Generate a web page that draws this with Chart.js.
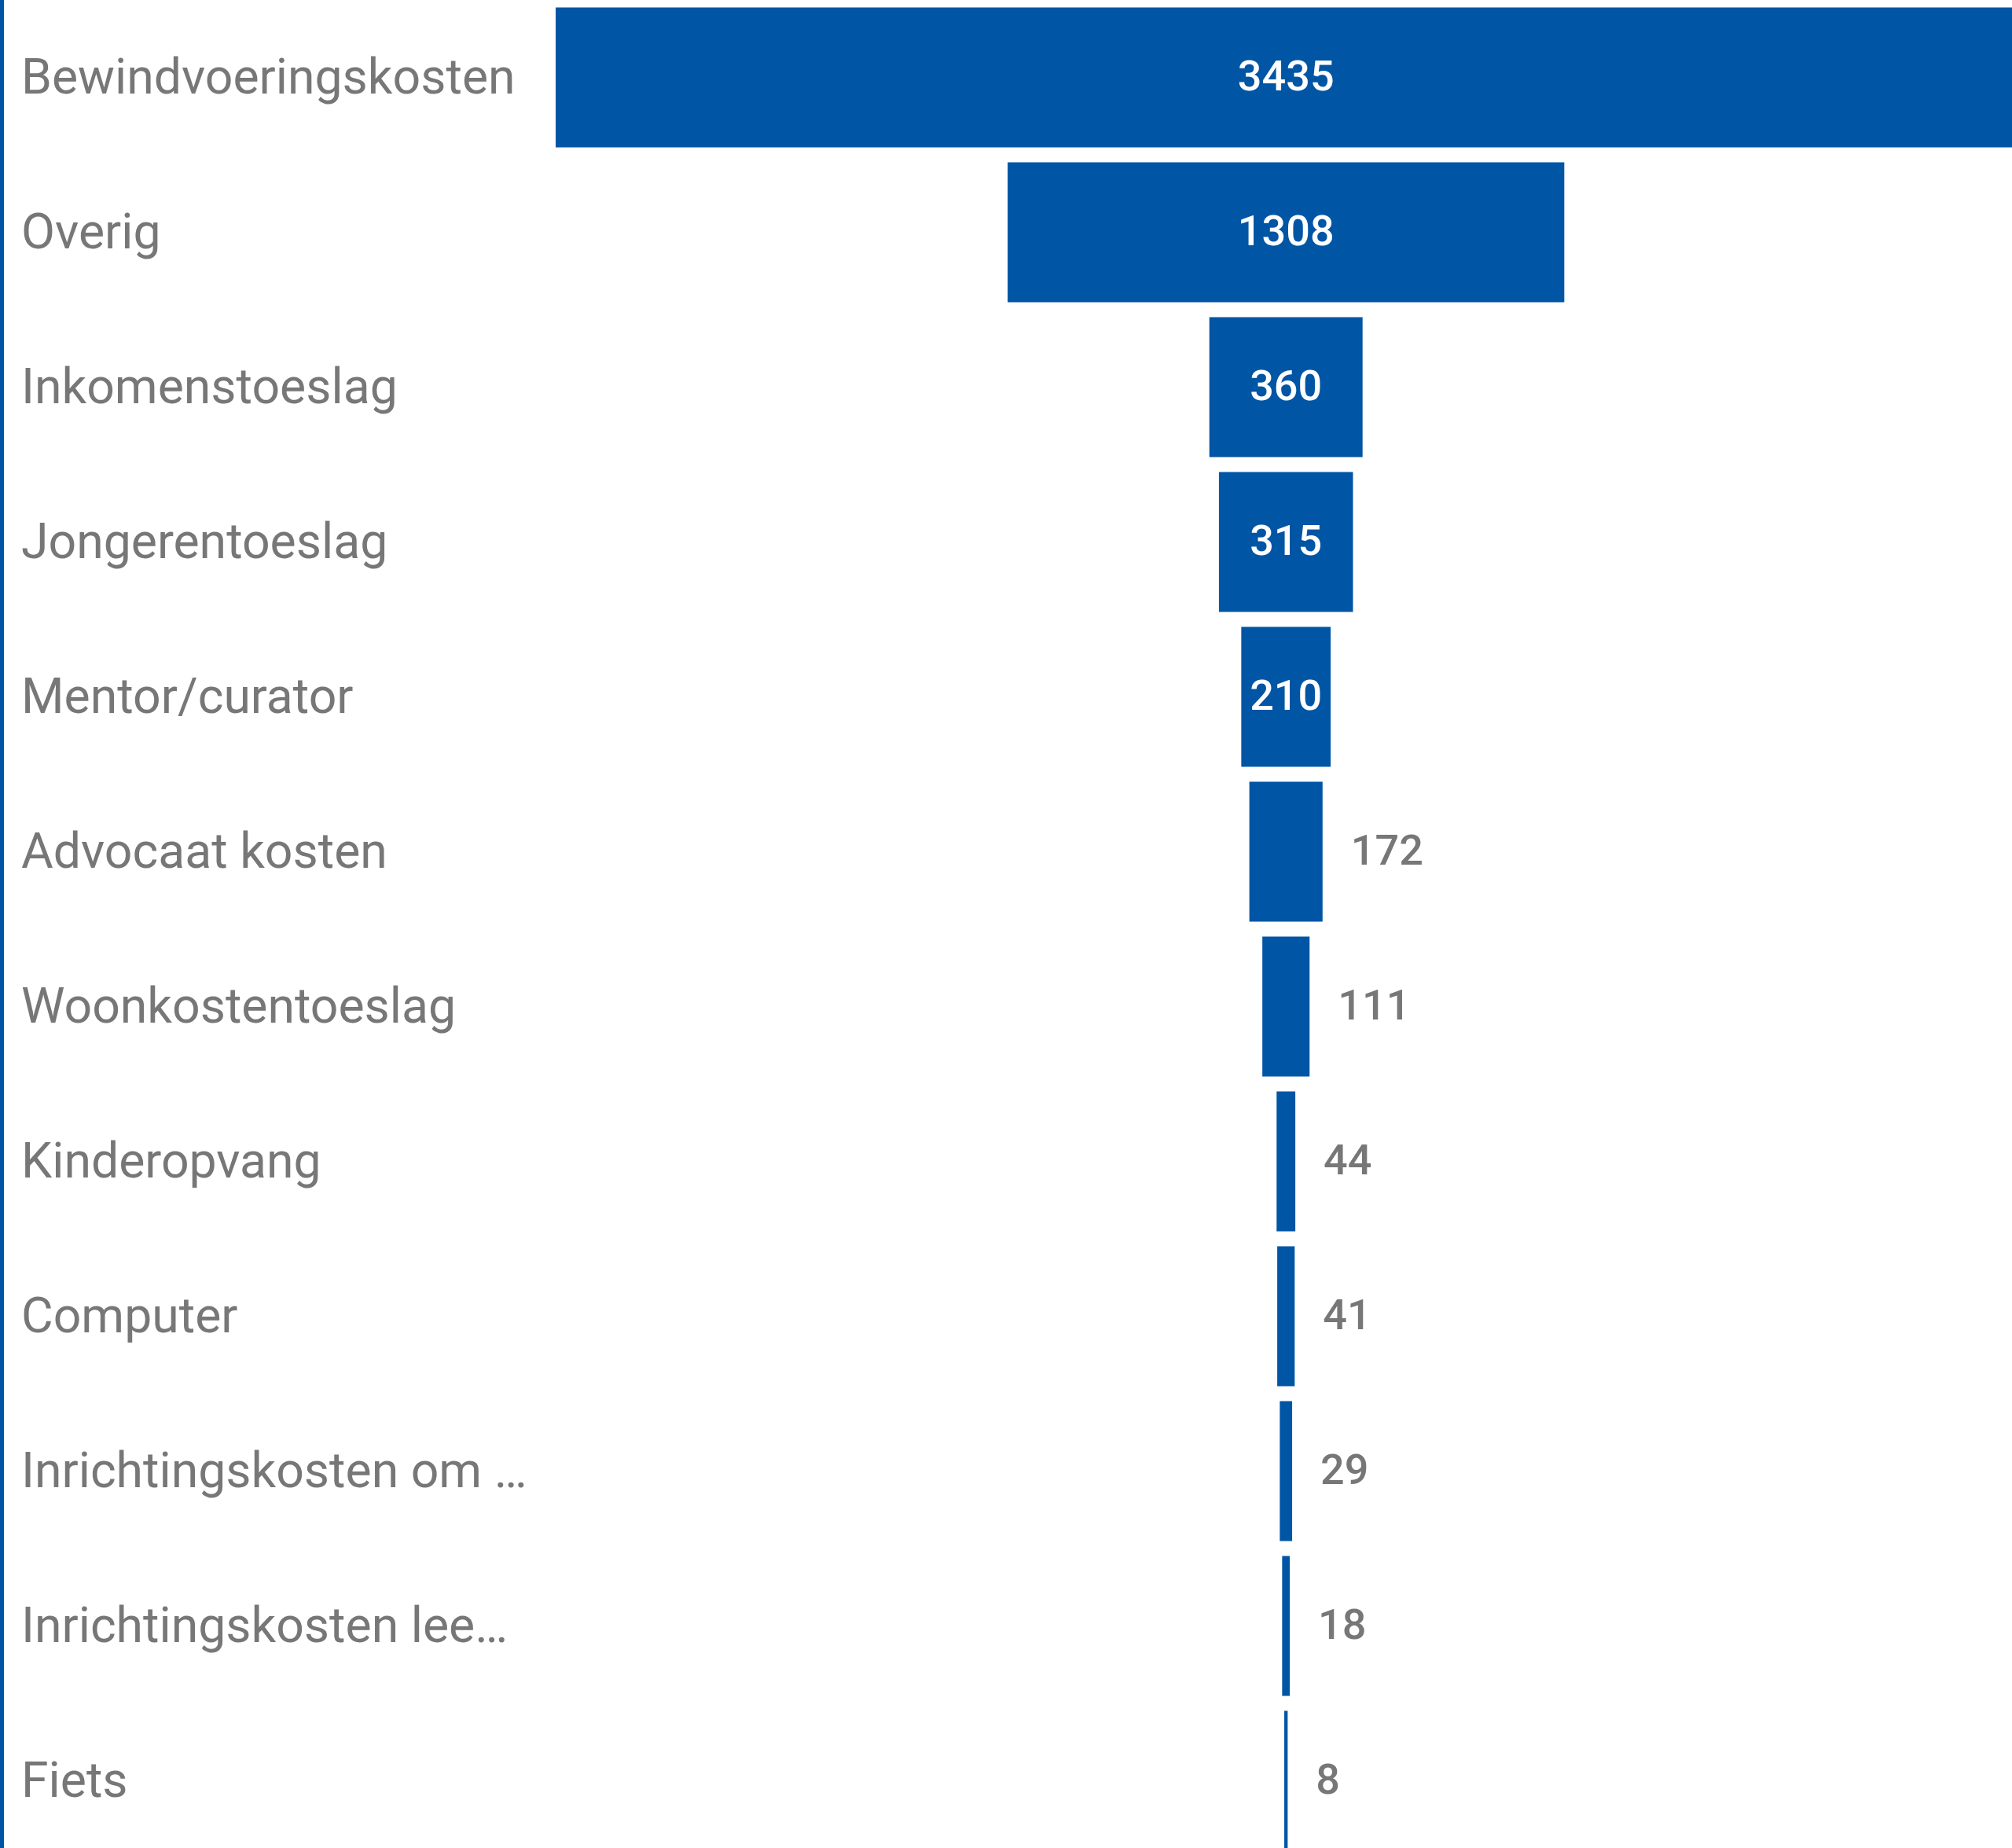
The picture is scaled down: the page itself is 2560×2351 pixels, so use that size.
<!DOCTYPE html>
<html>
<head>
<meta charset="utf-8">
<script src="https://cdn.jsdelivr.net/npm/chart.js@4.4.0/dist/chart.umd.min.js"></script>
<style>
  html, body { margin: 0; padding: 0; background: #fff; }
  #wrap { position: relative; width: 2560px; height: 2351px; overflow: hidden; }
  #edge { position: absolute; left: 0; top: 0; width: 5px; height: 2351px; background: #0055a5; }
  #chart { position: absolute; left: 0; top: 0; }
</style>
</head>
<body>
<div id="wrap">
  <canvas id="chart" width="2560" height="2364"></canvas>
  <div id="edge"></div>
</div>
<script>
const categories = [
    'Bewindvoeringskosten',
    'Overig',
    'Inkomenstoeslag',
    'Jongerentoeslag',
    'Mentor/curator',
    'Advocaat kosten',
    'Woonkostentoeslag',
    'Kinderopvang',
    'Computer',
    'Inrichtingskosten om …',
    'Inrichtingskosten lee…',
    'Fiets'
];
const values = [3435, 1308, 360, 315, 210, 172, 111, 44, 41, 29, 18, 8];

const blue = '#0055a5';
const grey = '#777777';
const fontFamily = 'Roboto, "Liberation Sans", sans-serif';

// funnel: every bar centred on zero
const spans = values.map(v => [-v / 2, v / 2]);

const valueLabels = {
    id: 'valueLabels',
    afterDatasetsDraw(chart) {
        const ctx = chart.ctx;
        const meta = chart.getDatasetMeta(0);
        ctx.save();
        ctx.font = '500 54px ' + fontFamily;
        ctx.textBaseline = 'middle';
        meta.data.forEach((bar, i) => {
            const text = String(values[i]);
            const left = Math.min(bar.x, bar.base);
            const right = Math.max(bar.x, bar.base);
            const w = ctx.measureText(text).width;
            if (w + 20 <= right - left) {
                ctx.fillStyle = '#ffffff';
                ctx.textAlign = 'center';
                ctx.fillText(text, (left + right) / 2, bar.y + 3);
            } else {
                ctx.fillStyle = grey;
                ctx.textAlign = 'left';
                ctx.fillText(text, right + 36, bar.y + 3);
            }
        });
        ctx.restore();
    }
};

new Chart(document.getElementById('chart'), {
    type: 'bar',
    data: {
        labels: categories,
        datasets: [{
            data: spans,
            backgroundColor: blue,
            borderWidth: 0,
            barPercentage: 0.904,
            categoryPercentage: 1
        }]
    },
    options: {
        indexAxis: 'y',
        responsive: false,
        animation: false,
        devicePixelRatio: 1,
        layout: { padding: { left: 27, right: 0, top: 0, bottom: 0 } },
        plugins: {
            legend: { display: false },
            tooltip: { enabled: false }
        },
        scales: {
            x: {
                display: false,
                min: -1716,
                max: 1706
            },
            y: {
                grid: { display: false },
                border: { display: false },
                ticks: {
                    color: grey,
                    crossAlign: 'far',
                    padding: 0,
                    labelOffset: 5,
                    font: { family: fontFamily, size: 62.5 }
                },
                afterFit(scale) {
                    scale.width = 680;
                    scale.paddingTop = 0;
                    scale.paddingBottom = 0;
                }
            }
        }
    },
    plugins: [valueLabels]
});
</script>
</body>
</html>
